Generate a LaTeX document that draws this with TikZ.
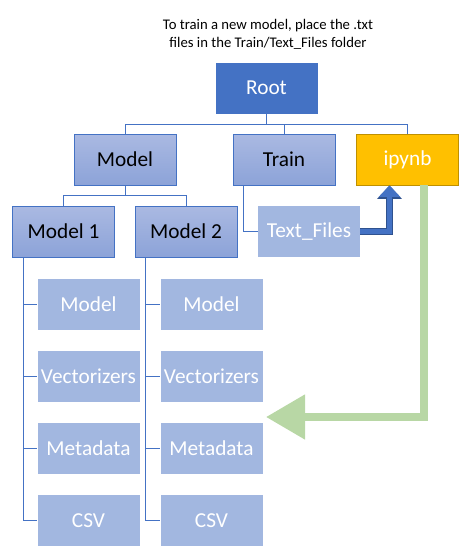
\documentclass[tikz,border=0pt]{standalone}
\usepackage{fontspec}
\setmainfont{Carlito}
\usetikzlibrary{arrows.meta}
\definecolor{accent}{HTML}{4472C4}
\definecolor{accentdk}{HTML}{2F528F}
\definecolor{gradtop}{HTML}{AAB9E2}
\definecolor{gradbot}{HTML}{8CA3D8}
\definecolor{pale}{HTML}{A2B7E0}
\definecolor{gold}{HTML}{FFC000}
\definecolor{golddk}{HTML}{BF9000}
\definecolor{sage}{HTML}{B8D7A5}
\tikzset{
  folder/.style={minimum width=102pt, minimum height=51pt, inner sep=0pt, font=\fontsize{21.3}{25}\selectfont},
  rootbox/.style={folder, fill=accent, text=white},
  dirbox/.style={folder, draw=accent, line width=0.9pt, top color=gradtop, bottom color=gradbot, text=black},
  filebox/.style={folder, fill=pale, text=white},
  nbbox/.style={folder, fill=gold, draw=golddk, line width=0.9pt, text=white},
  tree/.style={draw=accent, line width=0.9pt},
  pushrim/.style={draw=accentdk, line width=6.5pt, -{Triangle[width=24pt,length=13.5pt]}},
  push/.style={draw=accent, line width=4.5pt, -{Triangle[width=21pt,length=11.5pt]}},
  pull/.style={draw=sage, line width=8pt, -{Triangle[width=43pt,length=39pt]}},
  note/.style={align=center, font=\fontsize{14.7}{17.9}\selectfont},
}
\begin{document}
\begin{tikzpicture}[x=1pt, y=-1pt]
  \useasboundingbox (0,0) rectangle (471,557);
  \node[note] (hint) at (268,34) {To train a new model, place the .txt\\files in the Train/Text\_Files folder};
  % top levels
  \node[rootbox] (root) at (266.5,88) {Root};
  \node[dirbox] (model) at (125,159.5) {Model};
  \node[dirbox] (train) at (284,159.5) {Train};
  \node[nbbox] (ipynb) at (407.5,159.5) {ipynb};
  \node[dirbox] (m1) at (63.5,231.5) {Model 1};
  \node[dirbox] (m2) at (186,231.5) {Model 2};
  \node[filebox] (tf) at (309,231.5) {Text\_Files};
  % leaves of both model folders
  \foreach \c/\x in {1/88.5, 2/211.5}
    \foreach \k/\t [count=\i from 0] in {mod/Model, vec/Vectorizers, meta/Metadata, csv/CSV}
      \node[filebox] (m\c\k) at (\x,{304.5+72*\i}) {\t};
  % tree lines
  \draw[tree] (root.south) -- ++(0,11) -| (model.north);
  \draw[tree] (root.south) -- ++(0,11) -| (train.north);
  \draw[tree] (root.south) -- ++(0,11) -| (ipynb.north);
  \draw[tree] (model.south) -- ++(0,10) -| (m1.north);
  \draw[tree] (model.south) -- ++(0,10) -| (m2.north);
  \draw[tree] ([xshift=11pt]train.south west) |- (tf.west);
  \foreach \c in {1,2}
    \foreach \k in {mod,vec,meta,csv}
      \draw[tree] ([xshift=11pt]m\c.south west) |- (m\c\k.west);
  % arrows
  \coordinate (up) at ([xshift=-18pt]ipynb.south);
  \coordinate (down) at ([xshift=16pt]ipynb.south);
  \coordinate (drop) at (266,417);
  \draw[pushrim] (tf.east) -| (up);
  \draw[push] (tf.east) -| (up);
  \draw[pull] (down) |- (drop);
\end{tikzpicture}
\end{document}
